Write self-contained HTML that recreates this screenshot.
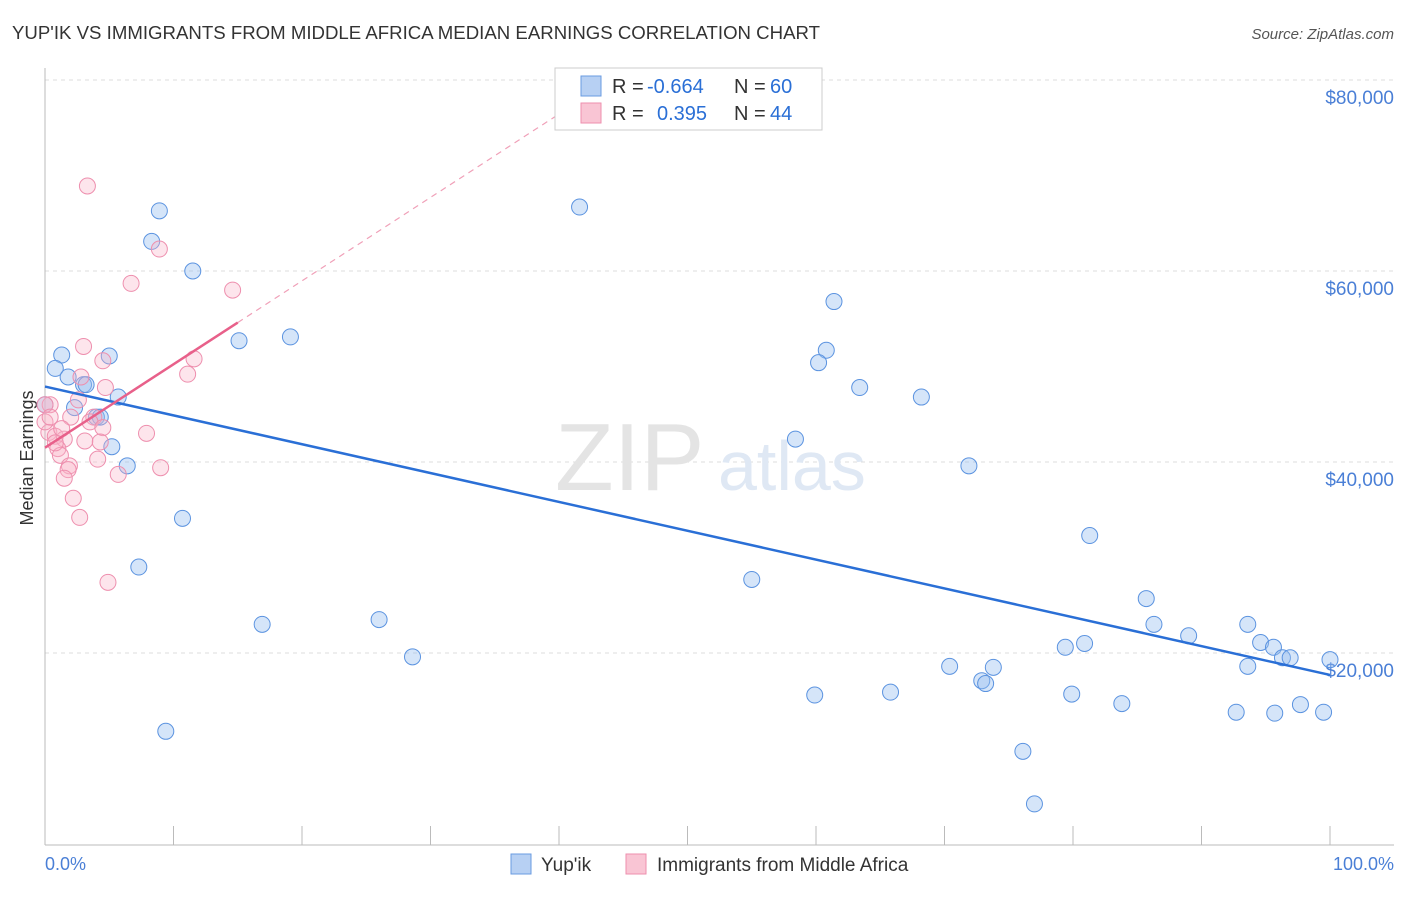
<!DOCTYPE html>
<html><head><meta charset="utf-8"><style>
body{margin:0;background:#fff;font-family:"Liberation Sans",sans-serif;}
svg text{font-family:"Liberation Sans",sans-serif;}
</style></head><body>
<svg width="1406" height="892" viewBox="0 0 1406 892">
<text x="12" y="39" font-size="18.6" fill="#333" textLength="808" lengthAdjust="spacingAndGlyphs">YUP'IK VS IMMIGRANTS FROM MIDDLE AFRICA MEDIAN EARNINGS CORRELATION CHART</text>
<text x="1394" y="39" font-size="15" fill="#555" font-style="italic" text-anchor="end">Source: ZipAtlas.com</text>
<g id="grid"></g>
<text x="555" y="490" font-size="96" fill="#e4e4e4" font-family="Liberation Serif">ZIP</text>
<text x="718" y="490" font-size="70" fill="#dfe8f4">atlas</text>
<line x1="45" y1="68" x2="45" y2="845" stroke="#bbb"/>
<line x1="45" y1="845" x2="1394" y2="845" stroke="#bbb"/>
<text x="33" y="458" font-size="18" fill="#333" transform="rotate(-90 33 458)" text-anchor="middle">Median Earnings</text>
<text x="45" y="870" font-size="18" fill="#4a7fd6">0.0%</text>
<text x="1394" y="870" font-size="18" fill="#4a7fd6" text-anchor="end">100.0%</text>
<g id="marks"></g>
<g>
<rect x="555" y="68" width="267" height="62" fill="#fff" stroke="#ccc"/>
<rect x="581" y="76" width="20" height="20" fill="#b7d0f3" stroke="#6a9be0"/>
<rect x="581" y="103" width="20" height="20" fill="#f9c5d4" stroke="#ee8fae"/>
<text x="612" y="93" font-size="20" fill="#333">R =</text>
<text x="647" y="93" font-size="20" fill="#2a6fd6">-0.664</text>
<text x="734" y="93" font-size="20" fill="#333">N =</text>
<text x="770" y="93" font-size="20" fill="#2a6fd6">60</text>
<text x="612" y="120" font-size="20" fill="#333">R =</text>
<text x="657" y="120" font-size="20" fill="#2a6fd6">0.395</text>
<text x="734" y="120" font-size="20" fill="#333">N =</text>
<text x="770" y="120" font-size="20" fill="#2a6fd6">44</text>
</g>
<g>
<rect x="511" y="854" width="20" height="20" fill="#b7d0f3" stroke="#6a9be0"/>
<text x="541" y="871" font-size="19" fill="#333">Yup'ik</text>
<rect x="626" y="854" width="20" height="20" fill="#f9c5d4" stroke="#ee8fae"/>
<text x="657" y="871" font-size="19" fill="#333">Immigrants from Middle Africa</text>
</g>
</svg>
<script>
const yTicks=[20000,40000,60000,80000];
const yTickLabels=["$20,000","$40,000","$60,000","$80,000"];
const blueX=[8.9,8.3,11.5,15.1,19.1,1.3,5.0,0.8,1.8,3.0,3.2,5.7,2.3,4.0,5.2,6.4,10.7,7.3,16.9,26.0,28.6,9.4,41.6,61.4,60.8,60.2,63.4,68.2,58.4,71.9,81.3,55.0,85.7,86.3,89.0,93.6,94.6,95.6,96.3,96.9,100.0,79.4,80.9,70.4,73.8,72.9,73.2,59.9,65.8,79.9,83.8,92.7,95.7,97.7,99.5,76.1,77.0,93.6,0.0,4.3];
const blueY=[66300,63100,60000,52700,53100,51200,51100,49800,48900,48100,48100,46800,45700,44700,41600,39600,34100,29000,23000,23500,19600,11800,66700,56800,51700,50400,47800,46800,42400,39600,32300,27700,25700,23000,21800,23000,21100,20600,19500,19500,19300,20600,21000,18600,18500,17100,16800,15600,15900,15700,14700,13800,13700,14600,13800,9700,4200,18600,46000,44700];
const pinkX=[3.3,8.9,6.7,14.6,3.0,11.6,4.5,11.1,2.8,4.7,2.6,0.4,0.0,3.8,3.5,2.0,4.5,0.3,0.8,1.5,3.1,4.3,7.9,1.0,1.2,4.1,1.9,9.0,1.8,5.7,1.5,2.2,2.7,4.9,0.8,0.0,0.4,1.3];
const pinkY=[68900,62300,58700,58000,52100,50800,50600,49200,48900,47800,46500,46000,46000,44700,44200,44700,43600,43100,42700,42400,42200,42100,43000,41400,40700,40300,39600,39400,39200,38700,38300,36200,34200,27400,42000,44200,44700,43500];
const blueFit=[47900,17700];
const pinkFit=[41500,54600];
const X=p=>45+p*12.85, Y=v=>844-v*191/20000;
const NS="http://www.w3.org/2000/svg";
function mk(t,a,par){const e=document.createElementNS(NS,t);for(const k in a)e.setAttribute(k,a[k]);document.getElementById(par).appendChild(e);return e;}
yTicks.forEach((v,i)=>{
 const l=mk('line',{x1:45,x2:1394,y1:Y(v),y2:Y(v),stroke:'#ddd','stroke-dasharray':'4,4'},'grid');
 
 
 const t=mk('text',{x:1394,y:Y(v)+24,'font-size':19,fill:'#4a7fd6','text-anchor':'end'},'grid');
 t.textContent=yTickLabels[i];
 
 
});
for(let i=0;i<=10;i++){
 const l=mk('line',{x1:X(i*10),x2:X(i*10),y1:826,y2:845,stroke:'#bbb'},'grid');
 
 
}
blueX.forEach((x,i)=>{
 const c=mk('circle',{cx:X(x),cy:Y(blueY[i]),r:8,fill:'rgba(150,190,240,0.4)',stroke:'#5b93e0','stroke-width':1},'marks');
 
 
});
pinkX.forEach((x,i)=>{
 const c=mk('circle',{cx:X(x),cy:Y(pinkY[i]),r:8,fill:'rgba(248,180,200,0.35)',stroke:'#ee8fae','stroke-width':1},'marks');
 
 
});
const bl=mk('line',{x1:X(0),y1:Y(blueFit[0]),x2:X(100),y2:Y(blueFit[1]),stroke:'#2a6fd6','stroke-width':2.5},'marks');


const slope=(pinkFit[1]-pinkFit[0])/15;
const pd=mk('line',{x1:X(15),y1:Y(pinkFit[1]),x2:X(40),y2:Y(pinkFit[0]+slope*40),stroke:'#f0a0b8','stroke-width':1.2,'stroke-dasharray':'6,5'},'marks');


const pl=mk('line',{x1:X(0),y1:Y(pinkFit[0]),x2:X(15),y2:Y(pinkFit[1]),stroke:'#e8608a','stroke-width':2.5},'marks');


</script>
</body></html>
